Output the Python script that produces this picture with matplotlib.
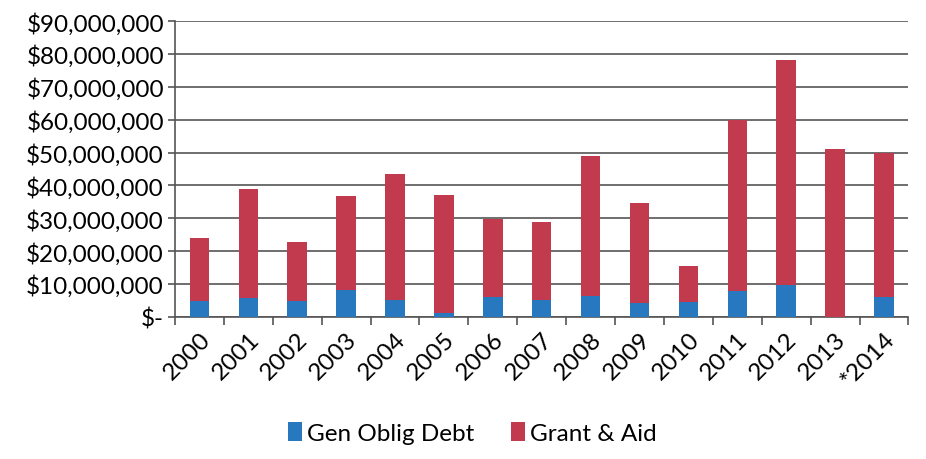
import matplotlib
matplotlib.use("Agg")
import matplotlib.pyplot as plt
import matplotlib.ticker as ticker
import numpy as np

plt.rcParams.update({
    "font.family": ["Lato", "DejaVu Sans"],
    "font.size": 17.5,
})

years = ["2000", "2001", "2002", "2003", "2004", "2005", "2006", "2007",
         "2008", "2009", "2010", "2011", "2012", "2013", "*2014"]
# values in dollars
gen_oblig_debt = [4.8e6, 5.6e6, 4.9e6, 8.3e6, 5.1e6, 1.2e6, 6.1e6, 5.1e6,
                  6.3e6, 4.1e6, 4.5e6, 7.9e6, 9.6e6, 0.0, 6.0e6]
totals = [24.1e6, 39.0e6, 22.8e6, 36.8e6, 43.6e6, 37.1e6, 29.9e6, 28.9e6,
          48.8e6, 34.7e6, 15.5e6, 59.9e6, 78.2e6, 51.1e6, 49.9e6]
grant_aid = [t - g for t, g in zip(totals, gen_oblig_debt)]

C_BLUE = "#2878C0"
C_RED = "#C23A4E"

fig = plt.figure(figsize=(9.26, 4.6), dpi=100)
ax = fig.add_axes([0.189, 0.309, 0.792, 0.643])

x = np.arange(len(years))
ax.bar(x, gen_oblig_debt, width=0.4, color=C_BLUE, label="Gen Oblig Debt", zorder=3)
ax.bar(x, grant_aid, width=0.4, bottom=gen_oblig_debt, color=C_RED,
       label="Grant & Aid", zorder=3)

ax.set_xlim(-0.5, len(years) - 0.5)
ax.set_ylim(0, 90e6)
ax.yaxis.set_major_locator(ticker.MultipleLocator(10e6))


def money(v, pos):
    if v == 0:
        return "$-"
    return "${:,.0f}".format(v)


ax.yaxis.set_major_formatter(ticker.FuncFormatter(money))
ax.grid(axis="y", color="#555555", lw=1.2, zorder=0)
ax.set_axisbelow(True)

ax.set_xticks(x)
ax.set_xticklabels(years, rotation=45, ha="right", rotation_mode="anchor")
ax.tick_params(axis="x", length=0, pad=8)
ax.set_xticks(np.arange(-0.5, len(years)), minor=True)
ax.tick_params(axis="x", which="minor", length=6, color="#555555", width=1.2)
ax.tick_params(axis="y", length=5, color="#555555", width=1.2, pad=3)

for s in ["top", "right"]:
    ax.spines[s].set_visible(False)
for s in ["left", "bottom"]:
    ax.spines[s].set_color("#555555")
    ax.spines[s].set_linewidth(1.2)

fig.legend(loc="lower center", bbox_to_anchor=(0.51, -0.015), ncol=2, frameon=False,
           handlelength=0.6, handleheight=0.8, handletextpad=0.2, columnspacing=1.5,
           fontsize=17.5)

fig.savefig("out.png", dpi=100, facecolor="white")
